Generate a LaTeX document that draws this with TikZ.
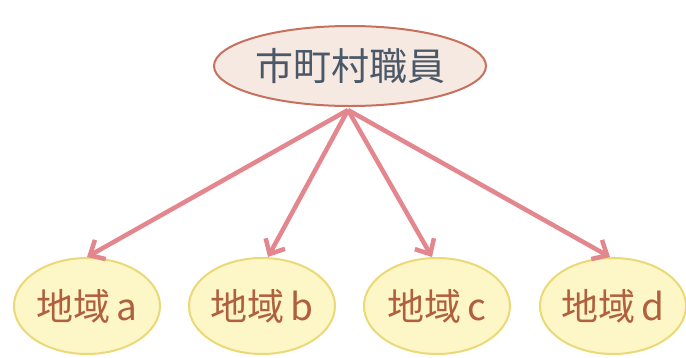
\documentclass[tikz,border=0pt]{standalone}
\usepackage{fontspec}
\newfontfamily\cjk{Noto Sans CJK JP}
\usetikzlibrary{shapes.geometric,arrows.meta}
\definecolor{topfill}{HTML}{F6E9E1}
\definecolor{topdraw}{HTML}{C8705E}
\definecolor{toptext}{HTML}{4A5868}
\definecolor{botfill}{HTML}{FDF6C6}
\definecolor{botdraw}{HTML}{EBD978}
\definecolor{bottext}{HTML}{B0603E}
\definecolor{arrowc}{HTML}{E3868E}
\tikzset{
  topnode/.style={ellipse, draw=topdraw, fill=topfill, line width=2pt, minimum width=272pt, minimum height=80pt, inner sep=0pt, text=toptext, font=\cjk\fontsize{38}{40}\selectfont},
  region/.style={ellipse, draw=botdraw, fill=botfill, line width=2pt, minimum width=146pt, minimum height=96pt, inner sep=0pt, text=bottext, font=\cjk\fontsize{37}{40}\selectfont},
  link/.style={draw=arrowc, line width=4.5pt, -{Straight Barb[length=12pt,width=22pt,line width=4.5pt]}}
}
\begin{document}
\begin{tikzpicture}[x=1pt,y=-1pt]
\useasboundingbox (0,0) rectangle (686,357);
\fill[white] (0,0) rectangle (686,357);
\node[topnode] (top) at (350,66) {市町村職員};
\node[region] (a) at (87,306) {地域\,a};
\node[region] (b) at (262,306) {地域\,b};
\node[region] (c) at (437,306) {地域\,c};
\node[region] (d) at (613,306) {地域\,d};
\coordinate (s) at (348,110);
\draw[link] (s) -- (a.north);
\draw[link] (s) -- ([xshift=6pt]b.north);
\draw[link] (s) -- ([xshift=-5pt]c.north);
\draw[link] (s) -- ([xshift=-3pt]d.north);
\end{tikzpicture}
\end{document}
